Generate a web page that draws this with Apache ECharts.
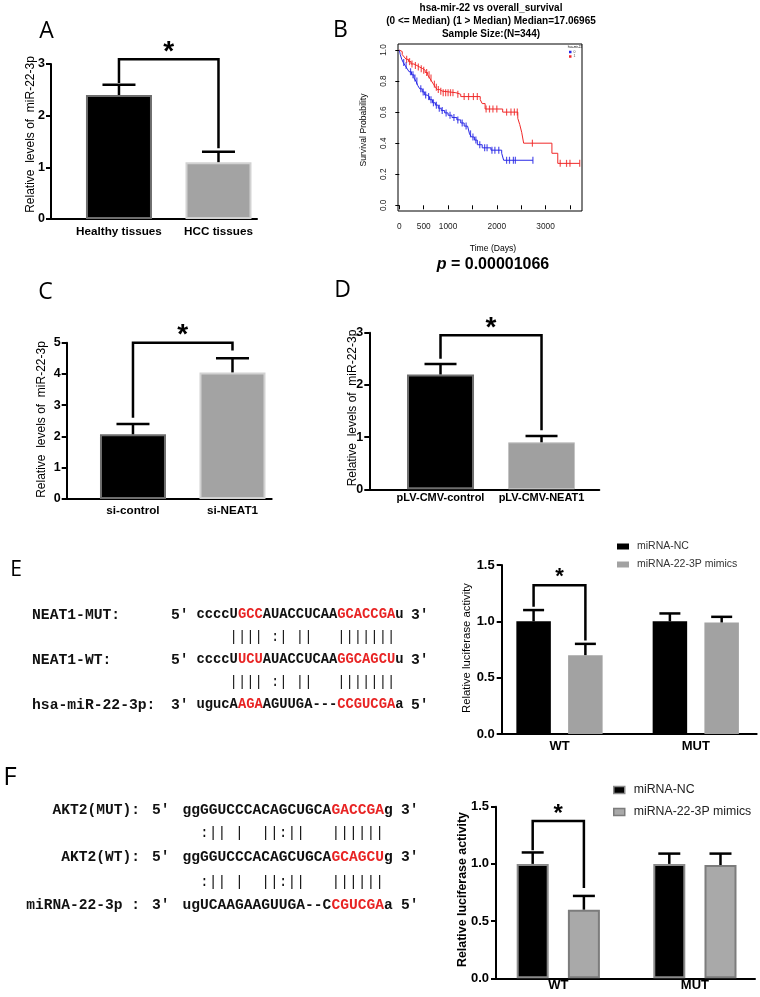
<!DOCTYPE html>
<html><head><meta charset="utf-8">
<script src="https://cdn.jsdelivr.net/npm/echarts@6/dist/echarts.min.js"></script>
<style>html,body{margin:0;padding:0;background:#fff}#c{width:760px;height:997px}</style>
</head><body><div id="c"></div>
<script>
// ---------------- DATA ----------------
const catsA = ['Healthy tissues', 'HCC tissues'];
const valsA = [2.4, 1.1];
const errA = [2.6, 1.3];
const bracketA = [2.63, 3.09, 1.37]; // left leg bottom, top, right leg bottom

const catsC = ['si-control', 'si-NEAT1'];
const valsC = [2.07, 4.05];
const errC = [2.4, 4.5];
const bracketC = [2.6, 5.0, 4.75];

const catsD = ['pLV-CMV-control', 'pLV-CMV-NEAT1'];
const valsD = [2.2, 0.9];
const errD = [2.4, 1.02];
const bracketD = [2.5, 2.95, 1.13];

const groupsE = ['WT', 'MUT'];
const ncE = [1.0, 1.0];
const ncErrE = [1.10, 1.07];
const mimE = [0.70, 0.99];
const mimErrE = [0.80, 1.04];
const bracketE = [1.13, 1.32, 0.83];

const groupsF = ['WT', 'MUT'];
const ncF = [1.0, 1.0];
const ncErrF = [1.10, 1.09];
const mimF = [0.60, 0.99];
const mimErrF = [0.72, 1.09];
const bracketF = [1.12, 1.376, 0.79];

const legendNames = ['miRNA-NC', 'miRNA-22-3P mimics'];

// Kaplan-Meier (days, survival)
const kmDaysRed = [0, 30, 60, 100, 140, 190, 240, 300, 360, 420, 480, 530, 580, 620, 660, 700, 740, 780, 830, 880, 1160, 1260, 1660, 1700, 1760, 2120, 2430, 2470, 2510, 2550, 3130, 3250, 3700];
const kmSurvRed = [1.0, 0.99, 0.97, 0.955, 0.94, 0.925, 0.91, 0.90, 0.89, 0.88, 0.87, 0.855, 0.84, 0.82, 0.80, 0.78, 0.76, 0.745, 0.735, 0.725, 0.715, 0.70, 0.68, 0.655, 0.62, 0.60, 0.56, 0.52, 0.47, 0.40, 0.335, 0.27, 0.27];
const kmDaysBlue = [0, 20, 50, 80, 120, 160, 200, 250, 300, 340, 380, 420, 470, 520, 570, 620, 680, 740, 800, 860, 930, 1000, 1080, 1180, 1260, 1330, 1400, 1440, 1480, 1540, 1600, 1700, 1880, 2100, 2140, 2740];
const kmSurvBlue = [1.0, 0.97, 0.94, 0.92, 0.90, 0.88, 0.86, 0.84, 0.82, 0.80, 0.77, 0.75, 0.73, 0.71, 0.70, 0.68, 0.66, 0.645, 0.625, 0.61, 0.595, 0.58, 0.565, 0.55, 0.53, 0.51, 0.50, 0.46, 0.44, 0.42, 0.39, 0.37, 0.355, 0.335, 0.29, 0.29];
const censRed = [150, 210, 260, 330, 390, 450, 500, 560, 610, 650, 720, 760, 800, 850, 900, 950, 1000, 1050, 1100, 1200, 1330, 1420, 1520, 1600, 1780, 1850, 1920, 2000, 2200, 2290, 2360, 2420, 2730, 3300, 3430, 3500, 3700];
const censBlue = [90, 140, 230, 280, 320, 360, 440, 490, 540, 600, 650, 700, 760, 820, 880, 960, 1040, 1120, 1200, 1290, 1370, 1460, 1510, 1570, 1650, 1750, 1800, 1900, 1960, 2040, 2200, 2260, 2340, 2380, 2740];
const kmXTicks = [0, 500, 1000, 1500, 2000, 2500, 3000, 3500];
const kmXLabels = [0, 500, 1000, 2000, 3000];
const kmYTicks = [0, 0.2, 0.4, 0.6, 0.8, 1.0];

// sequence alignments ([..] = red)
const seqRowsE = [
  {label: 'NEAT1-MUT:', e5: "5'", seq: 'ccccU[GCC]AUACCUCAA[GCACCGA]u', e3: "3'"},
  {match: '    |||| :| ||   |||||||'},
  {label: 'NEAT1-WT:', e5: "5'", seq: 'ccccU[UCU]AUACCUCAA[GGCAGCU]u', e3: "3'"},
  {match: '    |||| :| ||   |||||||'},
  {label: 'hsa-miR-22-3p:', e5: "3'", seq: 'ugucA[AGA]AGUUGA---[CCGUCGA]a', e3: "5'"}
];
const seqRowsF = [
  {label: 'AKT2(MUT):', e5: "5'", seq: 'ggGGUCCCACAGCUGCA[GACCGA]g', e3: "3'"},
  {match: '  :|| |  ||:||   ||||||'},
  {label: 'AKT2(WT):', e5: "5'", seq: 'ggGGUCCCACAGCUGCA[GCAGCU]g', e3: "3'"},
  {match: '  :|| |  ||:||   ||||||'},
  {label: 'miRNA-22-3p :', e5: "3'", seq: 'ugUCAAGAAGUUGA--C[CGUCGA]a', e3: "5'"}
];

// ---------------- HELPERS ----------------
const SANS = '"Liberation Sans", Arial, sans-serif';
const MONO = '"Liberation Mono", "Courier New", monospace';
const RED = '#e82424';

function survAt(days, surv, t) {
  let s = surv[0];
  for (let i = 0; i < days.length; i++) { if (days[i] <= t) s = surv[i]; }
  return s;
}
function zip(a, b) { return a.map((v, i) => [v, b[i]]); }

function barX(gi, min, max, cats, fs, margin) {
  return {type: 'value', gridIndex: gi, min: min, max: max, splitLine: {show: false},
    axisLine: {show: true, onZero: false, lineStyle: {color: '#000', width: 2}},
    axisTick: {show: false},
    axisLabel: {customValues: [1, 2], formatter: v => cats[Math.round(v) - 1] || '',
      color: '#000', fontFamily: SANS, fontWeight: 'bold', fontSize: fs, margin: margin}};
}
function barY(gi, max, interval, fs, dec, margin) {
  return {type: 'value', gridIndex: gi, min: 0, max: max, interval: interval, splitLine: {show: false},
    axisLine: {show: true, onZero: false, lineStyle: {color: '#000', width: 2}},
    axisTick: {show: true, length: 5, lineStyle: {color: '#000', width: 2}},
    axisLabel: {color: '#000', fontFamily: SANS, fontWeight: 'bold', fontSize: fs, margin: margin,
      formatter: v => v.toFixed(dec)}};
}
function errSeries(ai, vals, errs, dx, half, lw) {
  return {type: 'custom', xAxisIndex: ai, yAxisIndex: ai, clip: false, z: 5,
    data: vals.map((v, i) => [i + 1, v, errs[i]]),
    renderItem: (p, api) => {
      const a = api.coord([api.value(0), api.value(1)]);
      const b = api.coord([api.value(0), api.value(2)]);
      const x = a[0] + dx;
      return {type: 'group', children: [
        {type: 'line', shape: {x1: x, y1: a[1], x2: x, y2: b[1]}, style: {stroke: '#000', lineWidth: lw}},
        {type: 'line', shape: {x1: x - half, y1: b[1], x2: x + half, y2: b[1]}, style: {stroke: '#000', lineWidth: lw}}
      ]};
    }};
}
function bracketSeries(ai, xl, xr, dxl, dxr, b, fs, gap, lw) {
  return {type: 'custom', xAxisIndex: ai, yAxisIndex: ai, clip: false, z: 6,
    data: [[xl, b[0], xr, b[2], b[1]]],
    renderItem: (p, api) => {
      const pl = api.coord([api.value(0), api.value(1)]);
      const pr = api.coord([api.value(2), api.value(3)]);
      const pt = api.coord([api.value(0), api.value(4)]);
      const x1 = pl[0] + dxl, x2 = pr[0] + dxr;
      return {type: 'group', children: [
        {type: 'polyline', shape: {points: [[x1, pl[1]], [x1, pt[1]], [x2, pt[1]], [x2, pr[1]]]},
          style: {stroke: '#000', lineWidth: lw, fill: null, lineJoin: 'miter'}},
        {type: 'text', style: {text: '*', x: (x1 + x2) / 2, y: pt[1] - gap + 0.18 * fs,
          align: 'center', verticalAlign: 'middle', font: 'bold ' + fs + 'px ' + SANS, fill: '#000'}}
      ]};
    }};
}
const blackBar = {color: '#000', borderColor: '#6e6e6e', borderWidth: 2};
const grayBar = {color: '#a3a3a3', borderColor: '#d2d2d2', borderWidth: 2};
function singleBars(ai, vals, bw, styles) {
  return {type: 'bar', xAxisIndex: ai, yAxisIndex: ai, barWidth: bw, clip: false, z: 2,
    data: vals.map((v, i) => ({value: [i + 1, v], itemStyle: styles[i]}))};
}
function richSeq(s) {
  return s.split(/(\[[^\]]+\])/).filter(x => x).map(x => x[0] === '[' ? '{r|' + x.slice(1, -1) + '}' : '{k|' + x + '}').join('');
}
function seqGraphics(rows, ys, o) {
  const out = [];
  rows.forEach((r, i) => {
    const y = ys[i];
    if (r.match) {
      out.push({type: 'text', x: o.seqX, y: y, style: {text: r.match, font: 'normal ' + o.seqFs + 'px ' + MONO, fill: '#111', verticalAlign: 'middle', align: 'left'}});
      return;
    }
    out.push({type: 'text', x: o.labelX, y: y, style: {text: r.label, font: 'bold ' + o.labelFs + 'px ' + MONO, fill: '#111', verticalAlign: 'middle', align: o.labelAlign}});
    out.push({type: 'text', x: o.e5X, y: y, style: {text: r.e5, font: 'bold ' + o.labelFs + 'px ' + MONO, fill: '#111', verticalAlign: 'middle', align: 'left'}});
    out.push({type: 'text', x: o.seqX, y: y, style: {text: richSeq(r.seq), font: 'bold ' + o.seqFs + 'px ' + MONO, fill: '#111', verticalAlign: 'middle', align: 'left',
      rich: {k: {fill: '#111', fontFamily: MONO, fontWeight: 'bold', fontSize: o.seqFs}, r: {fill: RED, fontFamily: MONO, fontWeight: 'bold', fontSize: o.seqFs}}}});
    out.push({type: 'text', x: o.e3X, y: y, style: {text: r.e3, font: 'bold ' + o.labelFs + 'px ' + MONO, fill: '#111', verticalAlign: 'middle', align: 'left'}});
  });
  return out;
}
function txt(x, y, text, font, extra) {
  return Object.assign({type: 'text', x: x, y: y, style: {text: text, font: font, fill: '#000', align: 'center', verticalAlign: 'middle'}}, extra || {});
}
function vtxt(x, y, text, font) {
  return {type: 'text', x: x, y: y, rotation: Math.PI / 2, style: {text: text, font: font, fill: '#000', align: 'center', verticalAlign: 'middle'}};
}

// ---------------- OPTION ----------------
const chart = echarts.init(document.getElementById('c'));
const option = {
  animation: false,
  backgroundColor: '#fff',
  grid: [
    {left: 51, top: 64, width: 206, height: 155},
    {left: 398, top: 44, width: 184, height: 167, show: true, borderColor: '#000', borderWidth: 1, backgroundColor: 'transparent'},
    {left: 66.7, top: 342.7, width: 205, height: 156.3},
    {left: 369.3, top: 332.7, width: 230, height: 156.6},
    {left: 501.7, top: 565, width: 255, height: 169},
    {left: 496, top: 806.7, width: 259, height: 171.6}
  ],
  xAxis: [
    barX(0, 0.317, 2.387, catsA, 11.7, 7),
    {type: 'value', gridIndex: 1, min: -27, max: 3747, splitLine: {show: false},
      axisLine: {show: false},
      axisTick: {show: true, customValues: kmXTicks, length: 4, lineStyle: {color: '#000', width: 1}},
      axisLabel: {customValues: kmXLabels, formatter: v => String(v), color: '#222', fontFamily: SANS, fontSize: 8.3, margin: 12}},
    barX(2, 0.334, 2.394, catsC, 11.7, 6),
    barX(3, 0.295, 2.572, catsD, 11, 3),
    barX(4, 0.576, 2.447, groupsE, 13, 6),
    barX(5, 0.544, 2.440, groupsF, 13, 1)
  ],
  yAxis: [
    barY(0, 3, 1, 12.5, 0, 6),
    {type: 'value', gridIndex: 1, min: -0.0367, max: 1.0386, splitLine: {show: false},
      axisLine: {show: false},
      axisTick: {show: true, customValues: kmYTicks, length: 4, lineStyle: {color: '#000', width: 1}},
      axisLabel: {customValues: kmYTicks, rotate: 90, formatter: v => v.toFixed(1), color: '#222', fontFamily: SANS, fontSize: 8.3, margin: 10}},
    barY(2, 5, 1, 12.5, 0, 6),
    barY(3, 3, 1, 12.5, 0, 6),
    barY(4, 1.5, 0.5, 13, 1, 7),
    barY(5, 1.5, 0.5, 13, 1, 7)
  ],
  legend: [
    {left: 617, top: 541, padding: 0, orient: 'vertical', icon: 'rect', itemWidth: 12, itemHeight: 6, itemGap: 7,
      selectedMode: false,
      textStyle: {fontFamily: SANS, fontSize: 10.5, color: '#333', padding: [0, 0, 0, 3]},
      data: [{name: legendNames[0], itemStyle: {color: '#000', borderWidth: 0}}, {name: legendNames[1], itemStyle: {color: '#a2a2a2', borderWidth: 0}}]},
    {left: 613, top: 784, padding: 0, orient: 'vertical', icon: 'rect', itemWidth: 11, itemHeight: 7, itemGap: 10,
      selectedMode: false,
      textStyle: {fontFamily: SANS, fontSize: 12.3, color: '#222', padding: [0, 0, 0, 4]},
      data: [{name: legendNames[0], itemStyle: {color: '#000', borderColor: '#8a8a8a', borderWidth: 1.5}}, {name: legendNames[1], itemStyle: {color: '#a9a9a9', borderColor: '#7c7c7c', borderWidth: 1.5}}]},
    {left: 569, top: 50, padding: 0, orient: 'vertical', icon: 'rect', itemWidth: 2.5, itemHeight: 2.5, itemGap: 0.5,
      selectedMode: false, textStyle: {fontFamily: SANS, fontSize: 3.5, color: '#444', padding: [0, 0, 0, -3]},
      data: [{name: '0', itemStyle: {color: '#2828e6'}}, {name: '1', itemStyle: {color: '#f02828'}}]}
  ],
  series: [
    // A
    singleBars(0, valsA, 66, [blackBar, grayBar]),
    errSeries(0, valsA, errA, 0, 16.5, 2.5),
    bracketSeries(0, 1, 2, 0, 0, bracketA, 28, 12.6, 2.5),
    // B
    {type: 'line', name: '0', xAxisIndex: 1, yAxisIndex: 1, step: 'end', symbol: 'none', data: zip(kmDaysBlue, kmSurvBlue),
      lineStyle: {color: '#2828e6', width: 1}, itemStyle: {color: '#2828e6'}, z: 3},
    {type: 'line', name: '1', xAxisIndex: 1, yAxisIndex: 1, step: 'end', symbol: 'none', data: zip(kmDaysRed, kmSurvRed),
      lineStyle: {color: '#f02828', width: 1}, itemStyle: {color: '#f02828'}, z: 3},
    {type: 'scatter', name: '0', xAxisIndex: 1, yAxisIndex: 1, symbol: 'rect', symbolSize: [1.2, 7],
      itemStyle: {color: '#2828e6'}, data: censBlue.map(t => [t, survAt(kmDaysBlue, kmSurvBlue, t)]), z: 4},
    {type: 'scatter', name: '1', xAxisIndex: 1, yAxisIndex: 1, symbol: 'rect', symbolSize: [1.2, 7],
      itemStyle: {color: '#f02828'}, data: censRed.map(t => [t, survAt(kmDaysRed, kmSurvRed, t)]), z: 4},
    // C
    singleBars(2, valsC, 66, [blackBar, grayBar]),
    errSeries(2, valsC, errC, 0, 16.5, 2.5),
    bracketSeries(2, 1, 2, 0, 0, bracketC, 28, 12, 2.5),
    // D
    singleBars(3, valsD, 67, [blackBar, {color: '#a0a0a0', borderColor: '#c4c4c4', borderWidth: 1}]),
    errSeries(3, valsD, errD, 0, 16, 2.5),
    bracketSeries(3, 1, 2, 0, 0, bracketD, 28, 12.3, 2.5),
    // E
    {type: 'bar', name: legendNames[0], xAxisIndex: 4, yAxisIndex: 4, barWidth: 34.5, barGap: '50%', z: 2,
      itemStyle: {color: '#000'}, data: ncE.map((v, i) => [i + 1, v])},
    {type: 'bar', name: legendNames[1], xAxisIndex: 4, yAxisIndex: 4, barWidth: 34.5, barGap: '50%', z: 2,
      itemStyle: {color: '#a2a2a2'}, data: mimE.map((v, i) => [i + 1, v])},
    errSeries(4, ncE, ncErrE, -25.9, 10.5, 2.5),
    errSeries(4, mimE, mimErrE, 25.9, 10.5, 2.5),
    bracketSeries(4, 1, 1, -25.9, 25.9, bracketE, 22, 12.3, 2.5),
    // F
    {type: 'bar', name: legendNames[0], xAxisIndex: 5, yAxisIndex: 5, barWidth: 32, barGap: '60%', z: 2,
      itemStyle: {color: '#000', borderColor: '#8a8a8a', borderWidth: 2}, data: ncF.map((v, i) => [i + 1, v])},
    {type: 'bar', name: legendNames[1], xAxisIndex: 5, yAxisIndex: 5, barWidth: 32, barGap: '60%', z: 2,
      itemStyle: {color: '#a9a9a9', borderColor: '#7c7c7c', borderWidth: 2}, data: mimF.map((v, i) => [i + 1, v])},
    errSeries(5, ncF, ncErrF, -25.6, 11, 2.5),
    errSeries(5, mimF, mimErrF, 25.6, 11, 2.5),
    bracketSeries(5, 1, 1, -25.6, 25.6, bracketF, 24, 11, 2.5)
  ],
  graphic: [].concat(
    [
      txt(46.5, 31.5, 'A', '23px "Open Sans", sans-serif'),
      txt(340.5, 30, 'B', '23px "Open Sans", sans-serif'),
      txt(45.5, 292.5, 'C', '23px "Open Sans", sans-serif'),
      txt(342.5, 290.5, 'D', '23px "Open Sans", sans-serif'),
      txt(16, 570.5, 'E', '21px "Open Sans", sans-serif'),
      txt(10, 778, 'F', '26px "Open Sans", sans-serif'),
      txt(491, 8.5, 'hsa-mir-22 vs overall_survival', 'bold 10px ' + SANS),
      txt(491, 21.5, '(0 <= Median) (1 > Median) Median=17.06965', 'bold 10px ' + SANS),
      txt(491, 34, 'Sample Size:(N=344)', 'bold 10px ' + SANS),
      txt(575, 47.5, 'hsa-mir-22', '3px ' + SANS),
      vtxt(364, 130, 'Survival Probability', '8.6px ' + SANS),
      txt(493, 249, 'Time (Days)', '8.6px ' + SANS),
      {type: 'text', x: 493, y: 265, style: {text: '{i|p}{b| = 0.00001066}', align: 'center', verticalAlign: 'middle', font: 'bold 16px ' + SANS, fill: '#000',
        rich: {i: {fontStyle: 'italic', fontWeight: 'bold', fontSize: 16, fontFamily: SANS, fill: '#000'}, b: {fontWeight: 'bold', fontSize: 16, fontFamily: SANS, fill: '#000'}}}},
      vtxt(30.5, 134.5, 'Relative  levels of  miR-22-3p', '12px ' + SANS),
      vtxt(42, 419.5, 'Relative  levels of  miR-22-3p', '12px ' + SANS),
      vtxt(352.5, 408, 'Relative  levels of  miR-22-3p', '12px ' + SANS),
      vtxt(466.7, 648, 'Relative luciferase activity', '11.3px ' + SANS),
      vtxt(463, 889.5, 'Relative luciferase activity', 'bold 12.4px ' + SANS)
    ],
    seqGraphics(seqRowsE, [615, 637.3, 660, 682.7, 705], {labelX: 32, labelAlign: 'left', labelFs: 14.7, e5X: 171, seqX: 196.5, seqFs: 13.8, e3X: 411}),
    seqGraphics(seqRowsF, [810, 832.7, 857.7, 881.7, 905], {labelX: 140, labelAlign: 'right', labelFs: 14.6, e5X: 152, seqX: 182.5, seqFs: 14.6, e3X: 401})
  )
};
chart.setOption(option);
</script>
</body></html>
